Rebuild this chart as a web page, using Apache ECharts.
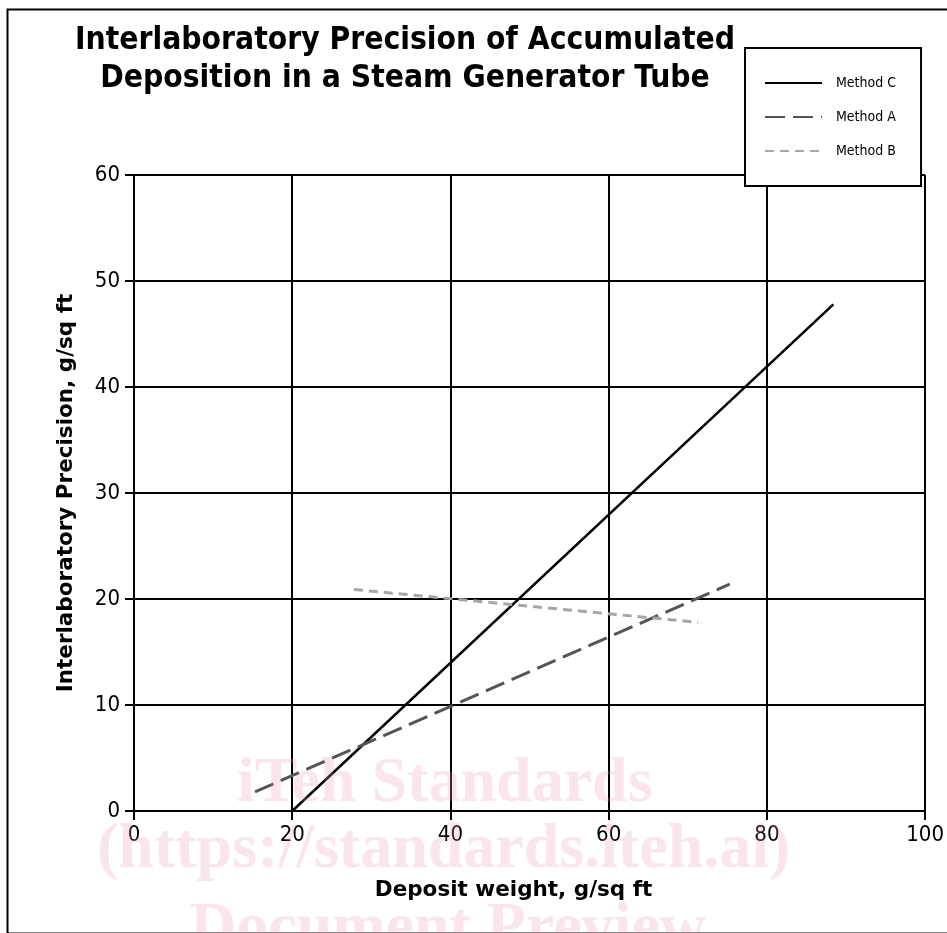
<!DOCTYPE html>
<html><head><meta charset="utf-8">
<script src="https://cdn.jsdelivr.net/npm/echarts@6/dist/echarts.min.js"></script>
<style>html,body{margin:0;padding:0;background:#fff}#c{width:947px;height:933px}</style>
</head><body><div id="c"></div>
<script>
const titleLines = ["Interlaboratory Precision of Accumulated", "Deposition in a Steam Generator Tube"];
const xAxisName = "Deposit weight, g/sq ft";
const yAxisName = "Interlaboratory Precision, g/sq ft";
const seriesNames = ["Method C", "Method A", "Method B"];
const methodC = [[20, 0], [88.4, 47.8]];
const methodA = [[15.3, 1.8], [75.3, 21.4]];
const methodB = [[27.8, 20.9], [71.3, 17.8]];
const watermark = ["iTeh Standards", "(https://standards.iteh.ai)", "Document Preview"];

const chart = echarts.init(document.getElementById('c'), null, {renderer: 'canvas'});
const font = "'DejaVu Sans Condensed', 'DejaVu Sans', sans-serif";
const nameFont = "'DejaVu Sans', sans-serif";
const wmFont = "bold 64px 'Liberation Serif', serif";
const wmFill = 'rgba(235,150,175,0.25)';
chart.setOption({
  animation: false,
  backgroundColor: '#fff',
  title: {
    text: titleLines.join('\n'), left: 400, top: 17, textAlign: 'center',
    textStyle: {fontFamily: font, fontWeight: 'bold', fontSize: 31.5, lineHeight: 38, color: '#000'}
  },
  legend: {
    orient: 'vertical', left: 745, top: 48,
    padding: [28, 25, 28, 19], itemWidth: 57, itemHeight: 14, itemGap: 20,
    backgroundColor: '#fff', borderColor: '#000', borderWidth: 2,
    itemStyle: {color: 'rgba(0,0,0,0)', borderWidth: 0, opacity: 0},
    textStyle: {fontFamily: font, fontSize: 14, color: '#000', padding: [0, 0, 0, 9]},
    data: seriesNames, z: 10
  },
  grid: {left: 134, right: 19, top: 175, bottom: 122, containLabel: false},
  xAxis: {
    type: 'value', min: 0, max: 100, interval: 20,
    name: xAxisName, nameLocation: 'middle', nameGap: 68,
    nameTextStyle: {fontFamily: nameFont, fontWeight: 'bold', fontSize: 21.5, color: '#000', padding: [0, 32, 0, 0]},
    axisLine: {show: true, onZero: false, lineStyle: {color: '#000', width: 2}},
    axisTick: {show: true, length: 9, lineStyle: {color: '#000', width: 2}},
    axisLabel: {fontFamily: font, fontSize: 22, color: '#000', margin: 13},
    splitLine: {show: true, lineStyle: {color: '#000', width: 2}}
  },
  yAxis: {
    type: 'value', min: 0, max: 60, interval: 10,
    name: yAxisName, nameLocation: 'middle', nameGap: 57, nameRotate: 90,
    nameTextStyle: {fontFamily: nameFont, fontWeight: 'bold', fontSize: 21.5, color: '#000'},
    axisLine: {show: true, lineStyle: {color: '#000', width: 2}},
    axisTick: {show: true, length: 9, lineStyle: {color: '#000', width: 2}},
    axisLabel: {fontFamily: font, fontSize: 22, color: '#000', margin: 14},
    splitLine: {show: true, lineStyle: {color: '#000', width: 2}}
  },
  series: [
    {name: seriesNames[0], type: 'line', data: methodC, symbol: 'none', z: 3,
     lineStyle: {color: '#000', width: 2.5}, itemStyle: {color: '#000'}},
    {name: seriesNames[1], type: 'line', data: methodA, symbol: 'none', z: 3,
     lineStyle: {color: '#555', width: 3, type: [20, 8]}, itemStyle: {color: '#555'}},
    {name: seriesNames[2], type: 'line', data: methodB, symbol: 'none', z: 3,
     lineStyle: {color: '#a6a6a6', width: 3, type: [9, 6]}, itemStyle: {color: '#a6a6a6'}}
  ],
  graphic: [
    {type: 'rect', left: 5, top: 7, shape: {width: 960, height: 924}, z: 100, silent: true,
     style: {fill: 'none', stroke: '#000', lineWidth: 2}},
    {type: 'text', left: 237, top: 752, z: 100, silent: true, style: {text: watermark[0], font: wmFont, fill: wmFill}},
    {type: 'text', left: 97, top: 818, z: 100, silent: true, style: {text: watermark[1], font: wmFont, fill: wmFill}},
    {type: 'text', left: 190, top: 897, z: 100, silent: true, style: {text: watermark[2], font: wmFont, fill: wmFill}}
  ]
});
</script></body></html>
